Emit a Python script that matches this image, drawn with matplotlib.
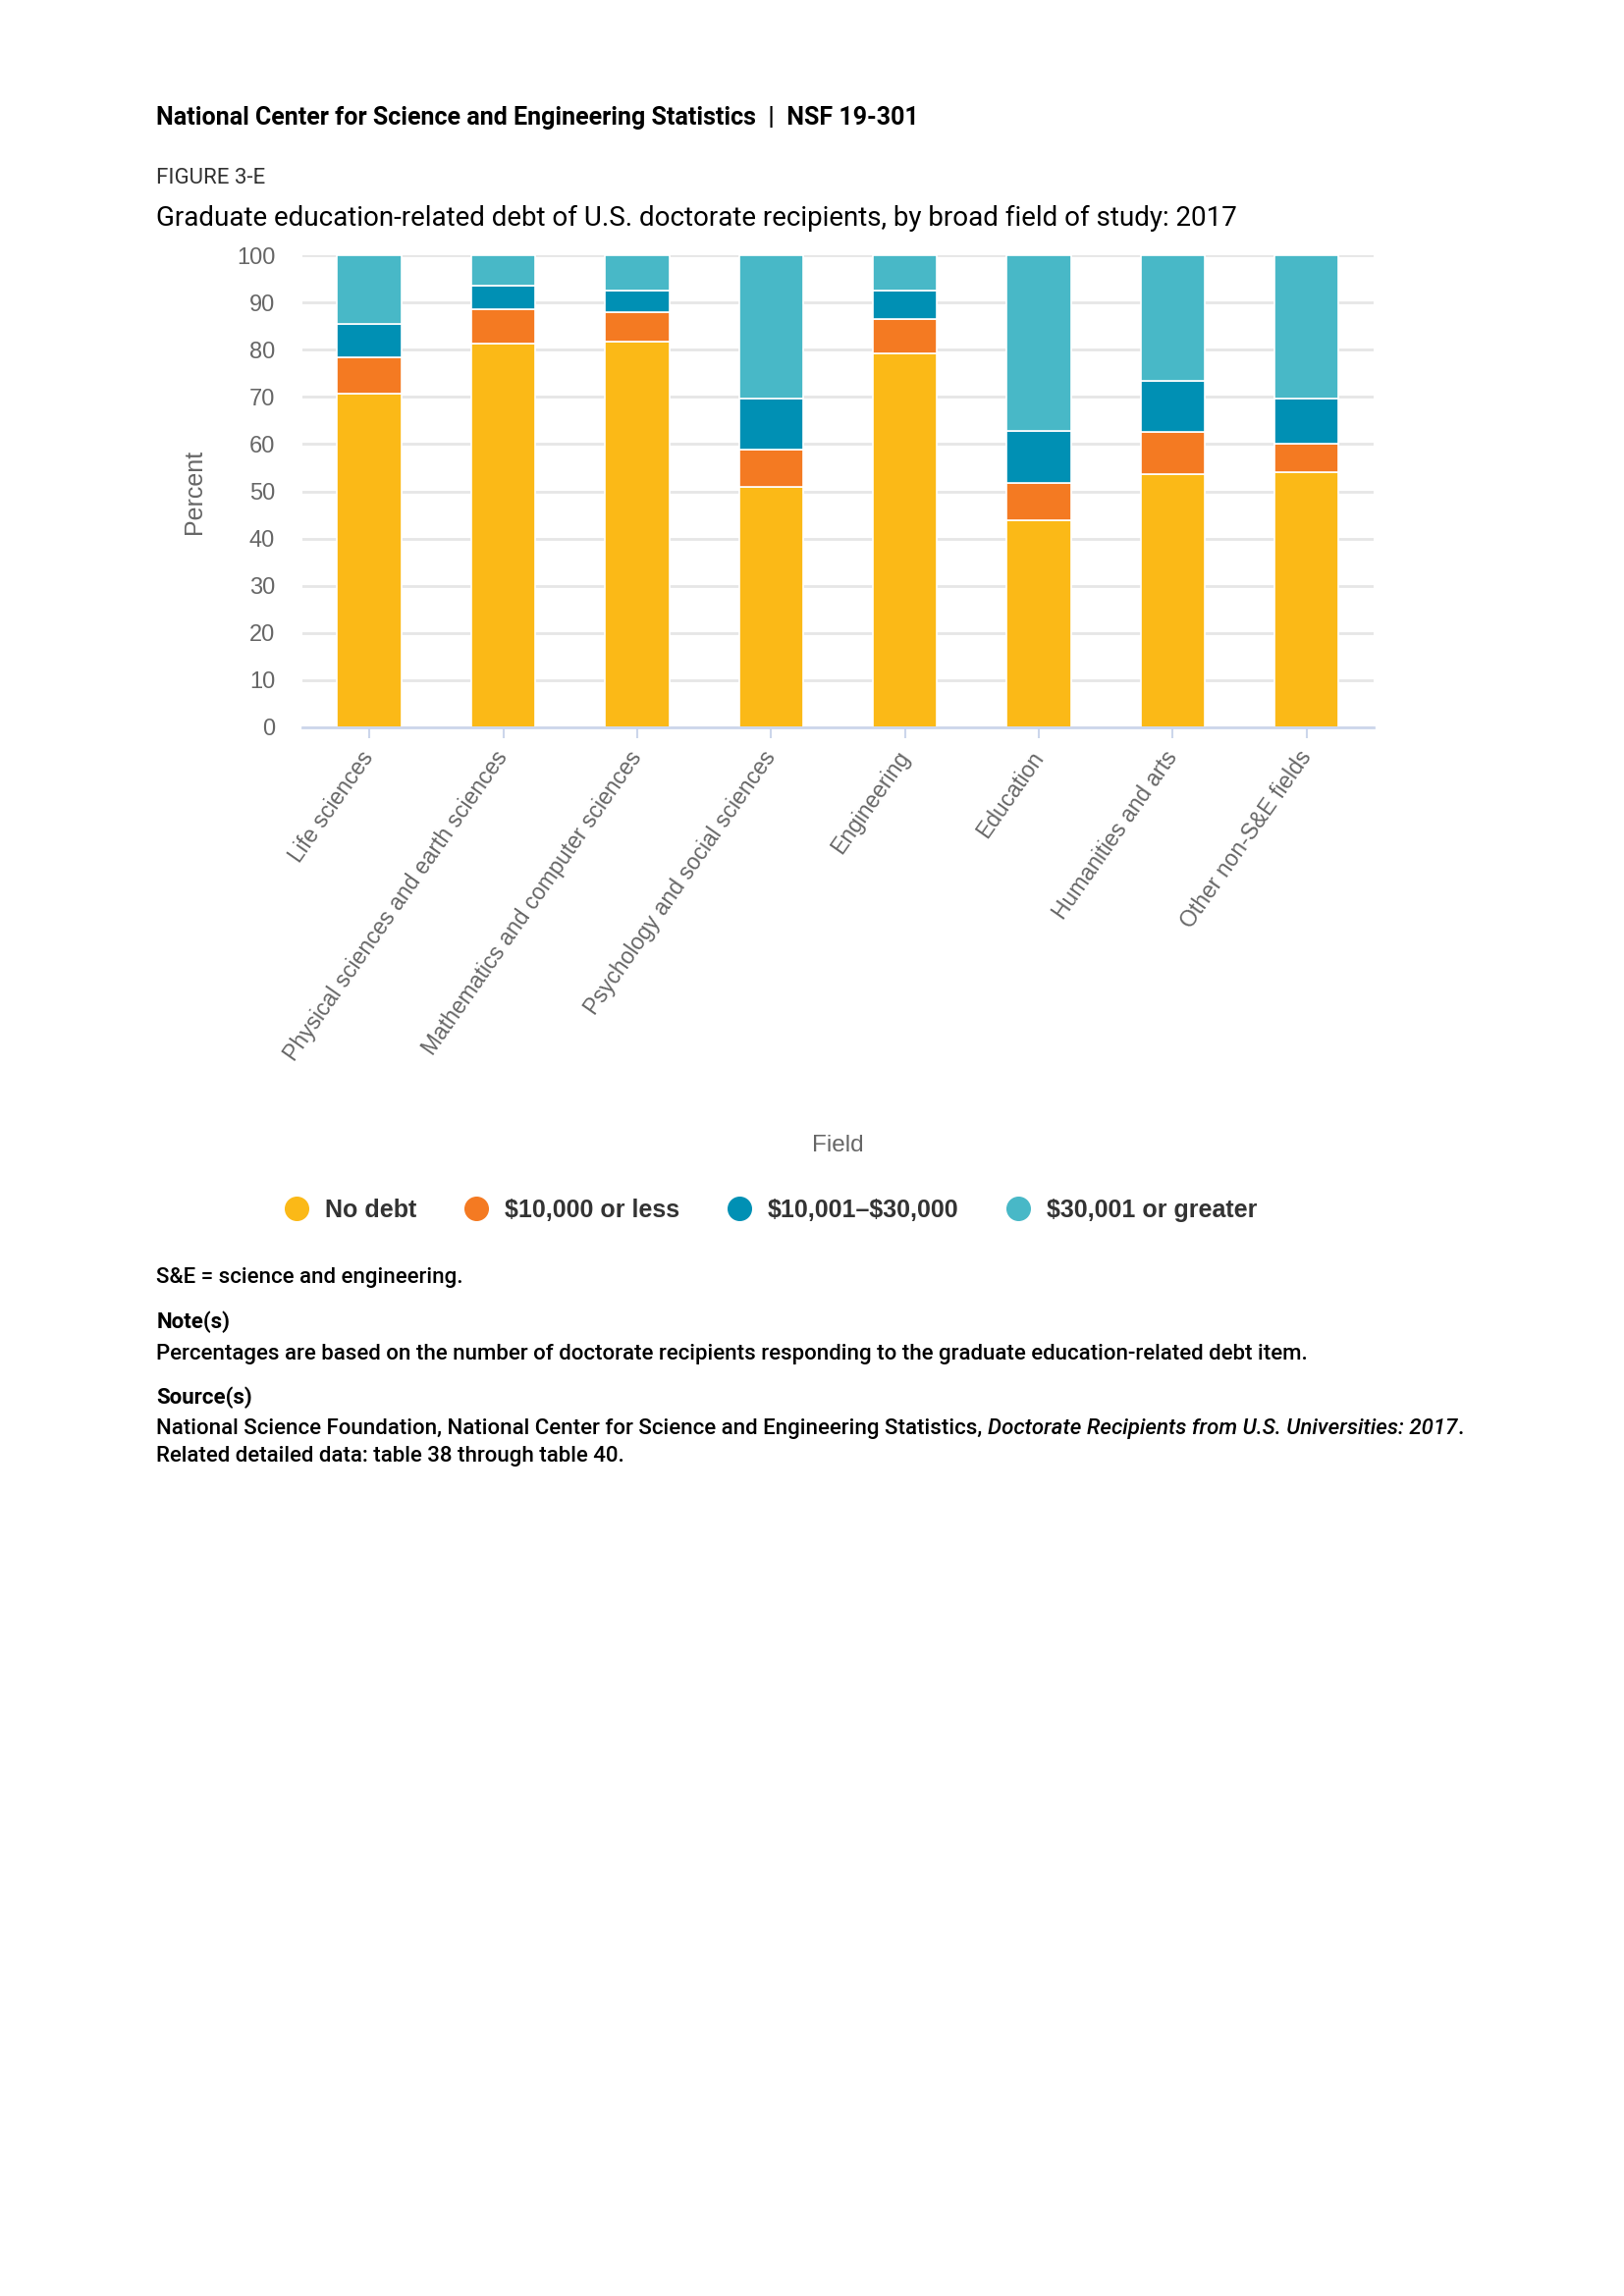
import matplotlib
matplotlib.use("Agg")
import matplotlib.pyplot as plt
import numpy as np
from matplotlib.lines import Line2D

fields = ["Life sciences", "Physical sciences and earth sciences",
          "Mathematics and computer sciences", "Psychology and social sciences",
          "Engineering", "Education", "Humanities and arts", "Other non-S&E fields"]
no_debt = [70.6, 81.4, 81.8, 50.9, 79.2, 43.9, 53.6, 54.0]
debt_10k_or_less = [7.8, 7.1, 6.2, 7.9, 7.2, 7.9, 9.0, 6.0]
debt_10k_30k = [7.0, 5.1, 4.6, 10.9, 6.2, 10.9, 10.9, 9.6]
debt_30k_plus = [100 - a - b - c for a, b, c in zip(no_debt, debt_10k_or_less, debt_10k_30k)]

series = ["No debt", "\\$10,000 or less", "\\$10,001\u2013\\$30,000", "\\$30,001 or greater"]
colors = ["#FBB917", "#F47A22", "#0090B4", "#48B8C7"]
values = [no_debt, debt_10k_or_less, debt_10k_30k, debt_30k_plus]

fig = plt.figure(figsize=(16.54, 23.39), dpi=100)
ax = fig.add_axes([0.1862, 0.6832, 0.6596, 0.2056])

x = np.arange(len(fields))
bottom = np.zeros(len(fields))
for name, col, vals in zip(series, colors, values):
    ax.bar(x, vals, 0.48, bottom=bottom, color=col, edgecolor="white", linewidth=1.2, label=name)
    bottom += np.array(vals)

ax.set_xlim(-0.5, len(fields) - 0.5)
ax.set_ylim(0, 100)
ax.set_yticks(range(0, 101, 10))
ax.set_axisbelow(True)
ax.yaxis.grid(True, color="#e6e6e6", linewidth=2)
for s in ["top", "right", "left"]:
    ax.spines[s].set_visible(False)
ax.spines["bottom"].set_color("#ccd6eb")
ax.spines["bottom"].set_linewidth(2)
ax.tick_params(axis="y", length=0, pad=20, labelsize=17, labelcolor="#666666")
ax.tick_params(axis="x", length=8, width=1.5, color="#ccd6eb", pad=11, labelsize=16.5, labelcolor="#666666")
ax.set_xticks(x)
ax.set_xticklabels(fields, rotation=55, ha="right", va="center", rotation_mode="anchor", family="Liberation Sans")
for t in ax.get_yticklabels():
    t.set_family("Liberation Sans")
ax.set_ylabel("Percent", fontsize=18, color="#666666", family="Liberation Sans", labelpad=22)

fig.text(0.5157, 0.501, "Field", ha="center", va="center", fontsize=17.5, color="#666666", family="Liberation Sans")

handles = [Line2D([], [], marker="o", linestyle="", markersize=17, markerfacecolor=c, markeredgecolor=c) for c in colors]
leg = fig.legend(handles, series, loc="center", bbox_to_anchor=(0.4745, 0.4728), ncol=4, frameon=False,
                 handletextpad=0.64, columnspacing=1.95, handlelength=1.0,
                 prop={"family": "Liberation Sans", "weight": "bold", "size": 18})
for t in leg.get_texts():
    t.set_color("#333333")

# header and titles
fig.text(0.0963, 0.9487, "National Center for Science and Engineering Statistics  |  NSF 19-301",
         fontsize=18, fontweight="bold", family="Roboto", va="center")
fig.text(0.0963, 0.9222, "FIGURE 3-E", fontsize=16, family="Roboto", color="#333333", va="center")
fig.text(0.0963, 0.9049, "Graduate education-related debt of U.S. doctorate recipients, by broad field of study: 2017",
         fontsize=20, family="Roboto", va="center")

# footnotes
fs = 16
fig.text(0.0963, 0.4434, "S&E = science and engineering.", fontsize=fs, family="Roboto", fontweight=500, va="center")
fig.text(0.0963, 0.4241, "Note(s)", fontsize=fs, family="Roboto", fontweight="bold", va="center")
fig.text(0.0963, 0.4104, "Percentages are based on the number of doctorate recipients responding to the graduate education-related debt item.",
         fontsize=fs, family="Roboto", fontweight=500, va="center")
fig.text(0.0963, 0.3912, "Source(s)", fontsize=fs, family="Roboto", fontweight="bold", va="center")
t1 = fig.text(0.0963, 0.3755, "National Science Foundation, National Center for Science and Engineering Statistics, ",
              fontsize=fs, family="Roboto", fontweight=500, va="baseline")
t2 = fig.text(0, 0, "Doctorate Recipients from U.S. Universities: 2017", fontsize=fs, family="Roboto",
              fontweight=500, style="italic", va="baseline")
t3 = fig.text(0, 0, ".", fontsize=fs, family="Roboto", fontweight=500, va="baseline")
fig.text(0.0963, 0.3635, "Related detailed data: table 38 through table 40.", fontsize=fs, family="Roboto",
         fontweight=500, va="baseline")

r = fig.canvas.get_renderer()
bb1 = t1.get_window_extent(r)
t2.set_position((bb1.x1 / fig.bbox.width, 0.3755))
bb2 = t2.get_window_extent(r)
t3.set_position((bb2.x1 / fig.bbox.width, 0.3755))

fig.savefig("out.png", dpi=100, facecolor="white")
